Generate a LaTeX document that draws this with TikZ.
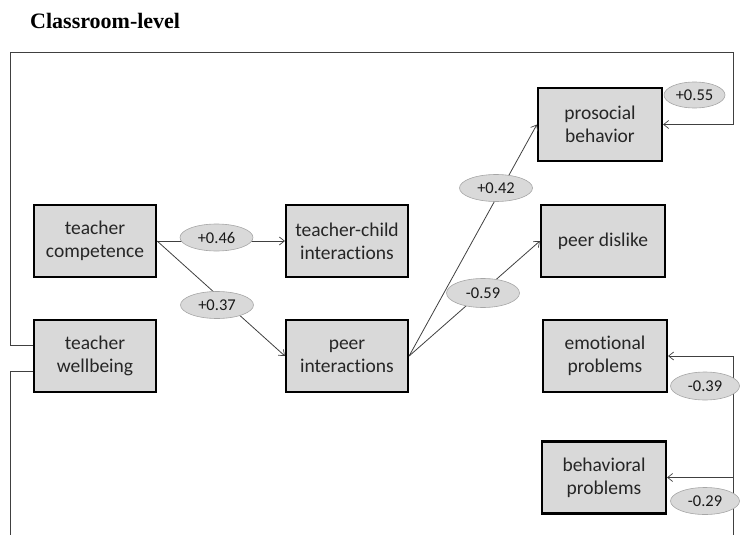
\documentclass[tikz,border=0pt]{standalone}
\usepackage{fontspec}
\setmainfont[Ligatures=NoCommon]{Carlito}
\newfontfamily\titlefont{Liberation Serif}
\usetikzlibrary{arrows.meta,shapes.geometric}
\tikzset{
  var/.style={draw=black, line width=2.2pt, fill=black!15, minimum width=122pt,
    minimum height=72pt, align=center, inner sep=0pt, text=black!85,
    font=\fontsize{19.5}{23}\selectfont},
  coef/.style={ellipse, draw=black!35, line width=0.6pt, fill=black!15,
    minimum width=73pt, minimum height=27pt, inner sep=0pt, text=black!90,
    font=\fontsize{16.5}{18}\selectfont},
  link/.style={draw=black!75, line width=0.8pt},
  arr/.style={link, -{Straight Barb[length=5pt,width=8pt,line width=0.7pt]}},
}
\begin{document}
\begin{tikzpicture}[x=1pt,y=-1pt]
\useasboundingbox (0,0) rectangle (741,535);

% title
\node[anchor=base west, inner sep=0pt, font=\titlefont\bfseries\fontsize{22}{24}\selectfont] (title) at (30,29) {Classroom-level};

% variables
\node[var] (tc)  at (95,241)   {teacher\\competence};
\node[var] (tci) at (347,241)  {teacher-child\\interactions};
\node[var] (tw)  at (95,356)   {teacher\\wellbeing};
\node[var] (pi)  at (347,356)  {peer\\interactions};
\node[var, minimum width=124pt, minimum height=73pt] (pro) at (600,124.5) {prosocial\\behavior};
\node[var, minimum width=124pt] (pd)  at (603,241)  {peer dislike};
\node[var, minimum width=124pt] (emo) at (605,356)  {emotional\\problems};
\node[var, minimum width=124pt] (beh) at (604,477.5) {behavioral\\problems};

% frame lines around the model
\coordinate (tl) at (10,52);
\coordinate (tr) at (733,52);
\coordinate (bl) at (10,535);
\coordinate (br) at (733,535);

% paths
\draw[arr] (tc.east) -- (tci.west);
\draw[arr] (tc.east) -- (pi.west);
\draw[arr] (pi.east) -- (pro.west);
\draw[arr] (pi.east) -- (pd.west);
\draw[arr] ([yshift=11pt]tw.west) -| (tl) -- (tr) |- (pro.east);
\draw[link] ([yshift=-15pt]tw.west) -| (bl);
\draw[arr] (br) |- (emo.east);
\draw[arr] (br) |- (beh.east);

% coefficients
\node[coef] (c46) at (216.5,237.5) {+0.46};
\node[coef] (c37) at (217,305) {+0.37};
\node[coef] (c42) at (496,188) {+0.42};
\node[coef, minimum height=29pt] (c59) at (483,293) {-0.59};
\node[coef, minimum width=61pt, minimum height=26pt] (c55) at (694.5,95) {+0.55};
\node[coef, minimum width=69pt, minimum height=28pt] (c39) at (705,386) {-0.39};
\node[coef, minimum width=69pt] (c29) at (705,501) {-0.29};
\end{tikzpicture}
\end{document}
